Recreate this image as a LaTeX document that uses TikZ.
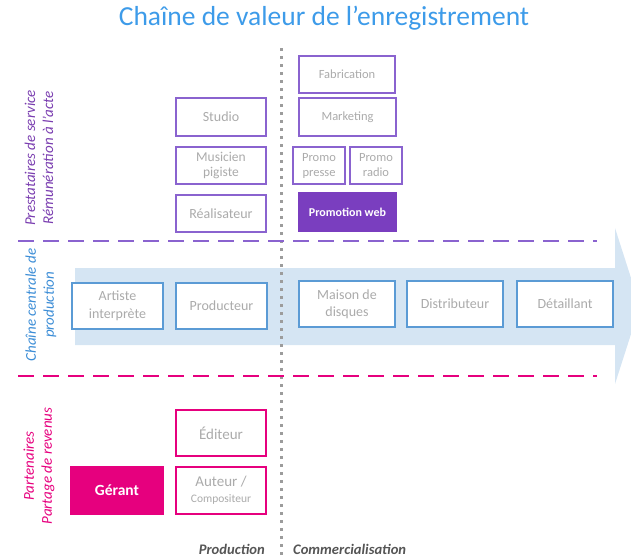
\documentclass[tikz,border=0pt]{standalone}
\usepackage{fontspec}
\setmainfont{Carlito}
\usetikzlibrary{calc}
\definecolor{titleblue}{HTML}{3D9BE9}
\definecolor{purp}{HTML}{8A63CF}
\definecolor{purpfill}{HTML}{7A3EBF}
\definecolor{purptext}{HTML}{7A3EB0}
\definecolor{pinkc}{HTML}{E6007E}
\definecolor{bandblue}{HTML}{D5E5F3}
\definecolor{boxblue}{HTML}{5B9BD5}
\definecolor{labelblue}{HTML}{3C8DD6}
\definecolor{boxtext}{HTML}{ABABAB}
\definecolor{dotgray}{HTML}{9C9C9C}
\definecolor{bottomgray}{HTML}{555555}
\tikzset{
  box/.style={draw, fill=white, line width=1.3pt, inner sep=1pt, outer sep=0pt, align=center,
     text=boxtext, font=\fontsize{14}{16}\selectfont},
  smalltext/.style={font=\fontsize{12.5}{15}\selectfont},
  purpbox/.style={box, draw=purp},
  bluebox/.style={box, draw=boxblue},
  pinkbox/.style={box, draw=pinkc},
  sidelabel/.style={rotate=90, align=center, font=\fontsize{15}{18}\selectfont\itshape},
  bottomlabel/.style={text=bottomgray, font=\fontsize{14.6}{16}\selectfont\bfseries\itshape, inner sep=0pt},
  sepline/.style={line width=2.6pt, dash pattern=on 16pt off 9pt},
}
\begin{document}
\begin{tikzpicture}[x=1pt,y=-1pt]
\useasboundingbox (0,0) rectangle (631,557);
\begin{scope}
\clip (0,0) rectangle (631,557);
% blue arrow band
\fill[bandblue] (75,268) -- (615,268) -- (615,228) -- (640,306) -- (615,384) -- (615,345) -- (75,345) -- cycle;
\end{scope}
% title
\node[text=titleblue, font=\fontsize{27.5}{30}\selectfont] (title) at (324,18) {Chaîne de valeur de l’enregistrement};
% dotted vertical separator
\coordinate (vtop) at (281,48);
\coordinate (vbot) at (281,557);
\draw[dotgray, line width=3pt, dash pattern=on 3pt off 5pt] (vtop) -- (vbot);
% horizontal dashed separators
\coordinate (pl) at (18,241); \coordinate (pr) at (597,241);
\coordinate (kl) at (18,376); \coordinate (kr) at (597,376);
\draw[sepline, purp] (pl) -- (pr);
\draw[sepline, pinkc] (kl) -- (kr);
% top section
\node[purpbox, minimum width=90pt, minimum height=38pt] (studio) at (221,117) {Studio};
\node[purpbox, minimum width=90pt, minimum height=37pt, font=\fontsize{13.5}{15}\selectfont] (musicien) at (221,165.5) {Musicien\\pigiste};
\node[purpbox, minimum width=90pt, minimum height=37pt] (real) at (221,213.5) {Réalisateur};
\node[purpbox, smalltext, minimum width=96pt, minimum height=37pt] (fab) at (347,74.5) {Fabrication};
\node[purpbox, smalltext, minimum width=97pt, minimum height=38pt] (mkt) at (347.5,117) {Marketing};
\node[purpbox, smalltext, minimum width=52pt, minimum height=37pt] (presse) at (319,165.5) {Promo\\presse};
\node[purpbox, smalltext, minimum width=52pt, minimum height=37pt] (radio) at (376,165.5) {Promo\\radio};
\node[box, draw=purpfill, fill=purpfill, text=white, minimum width=97pt, minimum height=38pt, font=\fontsize{12}{13}\selectfont\bfseries] (web) at (347.5,212) {Promotion web};
% central chain
\node[bluebox, minimum width=91pt, minimum height=46pt, font=\fontsize{14}{18}\selectfont] (artiste) at (117.5,306) {Artiste\\interprète};
\node[bluebox, minimum width=91pt, minimum height=46pt] (prod) at (221.5,306) {Producteur};
\node[bluebox, minimum width=96pt, minimum height=46pt, font=\fontsize{14}{17}\selectfont] (maison) at (347,304) {Maison de\\disques};
\node[bluebox, minimum width=96pt, minimum height=46pt] (distrib) at (455,304) {Distributeur};
\node[bluebox, minimum width=96pt, minimum height=46pt] (detail) at (565,304) {Détaillant};
% partners
\node[pinkbox, minimum width=90pt, minimum height=46pt, font=\fontsize{15}{17}\selectfont] (editeur) at (221,433) {Éditeur};
\node[pinkbox, minimum width=90pt, minimum height=47pt, font=\fontsize{15}{17}\selectfont] (auteur) at (221,490.5) {Auteur /\\[-1pt]{\fontsize{11.5}{13}\selectfont Compositeur}};
\node[box, draw=pinkc, fill=pinkc, text=white, minimum width=92pt, minimum height=47pt, font=\fontsize{15.5}{17}\selectfont\bfseries] (gerant) at (117,490.5) {Gérant};
% side labels
\node[sidelabel, text=purptext] (lab1) at (39,158) {Prestataires de service\\Rémunération à l’acte};
\node[sidelabel, text=labelblue] (lab2) at (41,305) {Chaîne centrale de\\production};
\node[sidelabel, text=pinkc] (lab3) at (39,466) {Partenaires\\Partage de revenus};
% bottom labels
\node[bottomlabel, anchor=east] (lprod) at (265,549) {Production};
\node[bottomlabel, anchor=west] (lcomm) at (293,549) {Commercialisation};
\end{tikzpicture}
\end{document}
